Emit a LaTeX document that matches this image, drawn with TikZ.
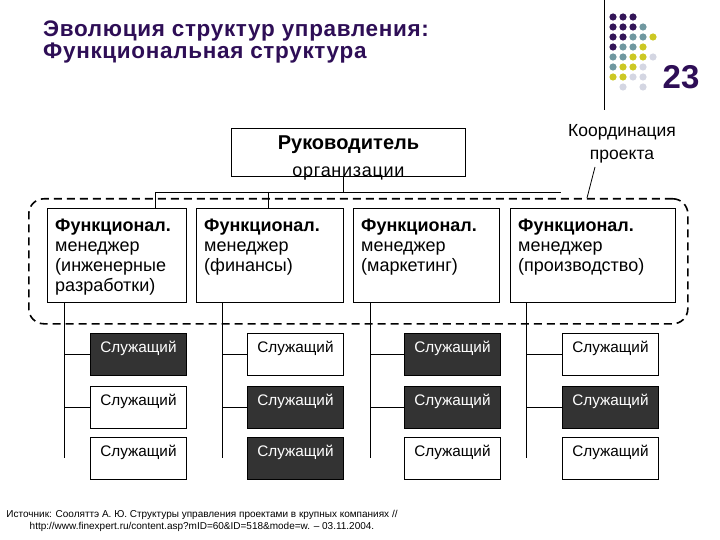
\documentclass[tikz,border=0pt]{standalone}
\usepackage{fontspec}
\setmainfont{Liberation Sans}
\definecolor{titlepurple}{RGB}{46,14,86}
\definecolor{dotP}{RGB}{52,22,88}
\definecolor{dotT}{RGB}{112,152,160}
\definecolor{dotY}{RGB}{204,200,36}
\definecolor{dotL}{RGB}{212,214,226}
\definecolor{empdark}{RGB}{51,51,51}
\tikzset{
  fbox/.style={draw, line width=0.9pt, fill=white, anchor=north west,
    minimum width=#1, minimum height=94pt, inner sep=0pt},
  ftext/.style={anchor=north west, align=left, inner xsep=8pt, inner ysep=11pt,
    font=\fontsize{18}{20}\selectfont},
  emp/.style={draw, line width=0.9pt, fill=white, anchor=north west,
    minimum width=96pt, minimum height=42pt, inner ysep=0pt,
    text height=19pt, text depth=23pt, font=\fontsize{15.3}{18}\selectfont},
  empd/.style={emp, fill=empdark, text=white},
}
\begin{document}
\begin{tikzpicture}[x=1pt,y=-1pt]
    \useasboundingbox (0,0) rectangle (720,540);
    \node[anchor=north west, align=left, inner sep=0pt, text=titlepurple,
      font=\bfseries\fontsize{22.5}{22}\selectfont\addfontfeature{LetterSpace=3}] (title) at (43,21)
      {Эволюция структур управления:\\Функциональная структура};
    \draw[line width=0.9pt] (604,0) -- (604,110);
    \foreach \c/\r/\k in {1/1/dotP,2/1/dotP,3/1/dotP,
        1/2/dotP,2/2/dotP,3/2/dotP,4/2/dotT,
        1/3/dotP,2/3/dotP,3/3/dotT,4/3/dotT,5/3/dotY,
        1/4/dotP,2/4/dotT,3/4/dotT,4/4/dotY,
        1/5/dotT,2/5/dotT,3/5/dotY,4/5/dotY,5/5/dotL,
        1/6/dotT,2/6/dotY,3/6/dotY,4/6/dotL,
        1/7/dotY,2/7/dotY,3/7/dotL,4/7/dotL,
        2/8/dotL,4/8/dotL}
      \fill[\k] (603+10*\c,7+10*\r) circle (3.6);
    \node[anchor=base, text=titlepurple, font=\bfseries\fontsize{33}{33}\selectfont]
      (num) at (681,89) {23};

    \node[draw, line width=0.9pt, anchor=north west, minimum width=234pt,
      minimum height=48pt, inner sep=0pt,
      label={[anchor=north, align=center, inner sep=0pt, yshift=-8pt,
        font=\fontsize{18}{27}\selectfont]north:{\fontsize{20}{27}\selectfont\textbf{Руководитель}\\
        {\addfontfeature{LetterSpace=4}организации}}}] (boss) at (231,128) {};
    \node[align=center, inner sep=0pt, font=\fontsize{17.5}{23}\selectfont]
      (coord) at (622,144) {Координация\\проекта};

    \node[draw, dashed, dash pattern=on 8pt off 5pt, line width=1.6pt,
      rounded corners=15pt, anchor=north west, minimum width=659pt,
      minimum height=125pt] (team) at (28,198) {};
    \coordinate (ltop) at (595,167);
    \coordinate (lbot) at (587,198);
    \draw[line width=0.8pt] (ltop) -- (lbot);

    \node[fbox=139pt, label={[ftext]north west:{\textbf{Функционал.}\\менеджер\\(инженерные\\разработки)}}] (f1) at (47,208) {};
    \node[fbox=147pt, label={[ftext]north west:{\textbf{Функционал.}\\менеджер\\(финансы)}}] (f2) at (196,208) {};
    \node[fbox=146pt, label={[ftext]north west:{\textbf{Функционал.}\\менеджер\\(маркетинг)}}] (f3) at (353,208) {};
    \node[fbox=165pt, label={[ftext]north west:{\textbf{Функционал.}\\менеджер\\(производство)}}] (f4) at (510,208) {};

    \coordinate (busL) at (155,192);
    \coordinate (busB) at (268,192);
    \coordinate (busM) at (343,192);
    \coordinate (busR) at (561,192);
    \draw[line width=0.9pt] (busM) -- (busM |- boss.south);
    \draw[line width=0.9pt] (busL) -- (busR);
    \draw[line width=0.9pt] (busL) -- (busL |- f1.north);
    \draw[line width=0.9pt] (busB) -- (busB |- f2.north);

    \foreach \n/\x/\y/\s in {11/90/333/empd,12/90/386/emp,13/90/437/emp,
        21/247/333/emp,22/247/386/empd,23/247/437/empd,
        31/404/333/empd,32/404/386/empd,33/404/437/emp,
        41/562/333/emp,42/562/386/empd,43/562/437/emp}
      \node[\s] (e\n) at (\x,\y) {Служащий};

    \coordinate (s1) at (64,458);
    \coordinate (s2) at (222,458);
    \coordinate (s3) at (370,458);
    \coordinate (s4) at (526,458);
    \foreach \c in {1,2,3,4} {
      \draw[line width=0.9pt] (s\c |- f\c.south) -- (s\c);
      \draw[line width=0.9pt] (s\c |- e\c1.west) -- (e\c1.west);
      \draw[line width=0.9pt] (s\c |- e\c2.west) -- (e\c2.west);
    }

    \node[align=center, inner sep=0pt, font=\fontsize{10}{12}\selectfont]
      (src) at (202,521) {Источник: Сооляттэ А. Ю. Структуры управления проектами в крупных компаниях //\\
      http://www.finexpert.ru/content.asp?mID=60\&ID=518\&mode=w. – 03.11.2004.};
  \end{tikzpicture}
\end{document}
